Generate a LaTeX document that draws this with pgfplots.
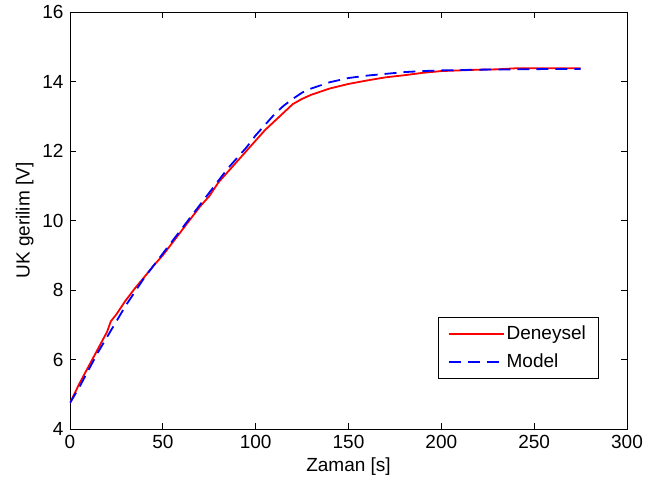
\documentclass[border=0pt]{standalone}
\usepackage{fontspec}
\setmainfont{Liberation Sans}
\usepackage{pgfplots}
\pgfplotsset{compat=1.18}
\begin{document}
\fontsize{19}{23}\selectfont
\begin{tikzpicture}
\useasboundingbox (-70pt,-64pt) rectangle (575pt,429pt);
\begin{axis}[
  scale only axis,
  width=557pt, height=417pt,
  xmin=0, xmax=300, ymin=4, ymax=16,
  xtick={0,50,...,300}, ytick={4,6,...,16},
  tick align=inside,
  major tick length=6pt,
  axis line style={line width=0.8pt},
  every tick/.style={line width=0.8pt, black},
  /pgf/number format/assume math mode=true,
  tick label style={font=\fontsize{19}{23}\selectfont},
  label style={font=\fontsize{19}{23}\selectfont},
  xlabel={Zaman [s]}, ylabel={UK gerilim [V]},
  xlabel style={yshift=4pt},
  ylabel style={yshift=-4pt},
  legend style={at={(0.948,0.122)}, anchor=south east, draw=black,
    font=\fontsize{19}{23}\selectfont, row sep=7pt, inner xsep=10pt, inner ysep=6pt,
    /tikz/every even column/.append style={column sep=3pt}},
  legend cell align=left,
  legend image code/.code={\draw[#1, line width=1.8pt] (0pt,0pt) -- (55pt,0pt);},
]
\addplot[red, line width=1.8pt] coordinates {
(0,4.75) (5,5.3) (10,5.8) (15,6.3) (20,6.8) (22,7.1) (25,7.3) (30,7.7) (35,8.05)
(40,8.37) (45,8.7) (50,9.0) (55,9.35) (60,9.7) (65,10.05) (70,10.4) (75,10.7)
(80,11.1) (85,11.4) (90,11.7) (95,12.0) (100,12.3) (105,12.6) (110,12.85)
(115,13.1) (120,13.35) (125,13.5) (130,13.62) (140,13.8) (150,13.93) (160,14.03)
(170,14.12) (180,14.18) (190,14.25) (200,14.3) (210,14.32) (220,14.34) (230,14.35)
(240,14.38) (250,14.38) (260,14.38) (275,14.38)
};
\addlegendentry{Deneysel}
\addplot[blue, line width=1.8pt, dash pattern=on 12pt off 7pt] coordinates {
(0,4.75) (5,5.2) (10,5.7) (15,6.2) (20,6.65) (25,7.1) (30,7.55) (35,7.95)
(40,8.35) (45,8.7) (50,9.05) (55,9.4) (60,9.75) (65,10.1) (70,10.45) (75,10.8)
(80,11.15) (85,11.5) (90,11.8) (95,12.1) (100,12.45) (105,12.75) (110,13.05)
(115,13.3) (120,13.5) (125,13.68) (130,13.8) (140,13.98) (150,14.1) (160,14.17)
(170,14.22) (180,14.27) (190,14.3) (200,14.32) (220,14.34) (240,14.35) (260,14.36) (275,14.36)
};
\addlegendentry{Model}
\end{axis}
\end{tikzpicture}
\end{document}
